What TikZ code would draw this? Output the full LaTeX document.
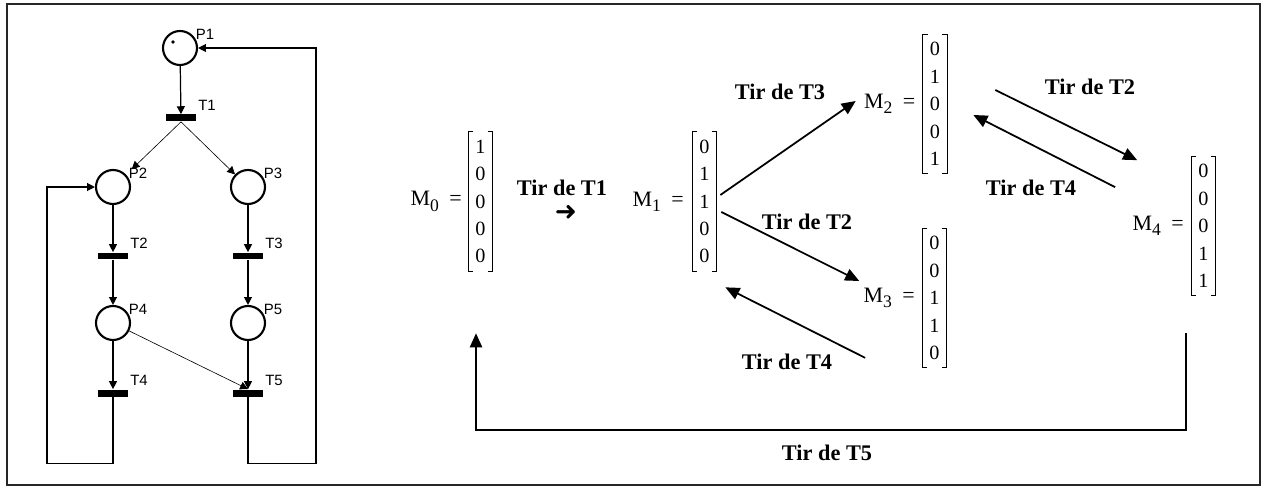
\documentclass[tikz,border=0pt]{standalone}
\usepackage{fontspec}
\setmainfont{Liberation Serif}
\newfontfamily\netfont{Liberation Sans}
\newfontfamily\symfont{DejaVu Sans}
\usetikzlibrary{arrows.meta,positioning}

% marking name with its lowered index, e.g. M_0 =
\newcommand{\mk}[1]{M\raisebox{-3pt}{\fontsize{10}{12}\selectfont #1}\hspace{6pt}=}

\begin{document}
\begin{tikzpicture}[x=0.02cm, y=-0.02cm,
    place/.style={circle, draw, line width=1.2pt, minimum size=0.68cm, inner sep=0},
    trans/.style={rectangle, fill, minimum width=0.62cm, minimum height=0.14cm, inner sep=0},
    lbl/.style={font=\netfont\fontsize{8.5}{9}\selectfont, inner sep=0},
    flow/.style={-{Triangle[length=4.5pt,width=4.5pt]}, line width=0.7pt},
    thinflow/.style={flow, line width=0.35pt},
    vect/.style={minimum width=0.48cm, minimum height=2.78cm, inner sep=0, align=center, font=\fontsize{11.5}{15.6}\selectfont},
    mlab/.style={inner sep=0, font=\fontsize{12.5}{14}\selectfont},
    fire/.style={-{Triangle[length=8pt,width=7pt]}, line width=1pt},
    firelab/.style={font=\bfseries\fontsize{12.7}{14}\selectfont},
    bracket/.style={line width=0.7pt}
  ]
    \useasboundingbox (0,0) rectangle (1261,486);
    \draw[line width=1.1pt, black!85] (7,4) rectangle (1260,485);

    % Petri net
    \node[place] (p1) at (180,48) {};
    \node[trans] (t1) at (181,118) {};
    \node[place] (p2) at (113,187) {};
    \node[place] (p3) at (248,187) {};
    \node[trans] (t2) at (113,256) {};
    \node[trans] (t3) at (248,256) {};
    \node[place] (p4) at (113,323) {};
    \node[place] (p5) at (248,323) {};
    \node[trans] (t4) at (113,393) {};
    \node[trans] (t5) at (248,393) {};
    \fill ([shift={(-7,-6)}]p1) circle[radius=1.1pt];

    \foreach \n in {1,...,5} {
      \node[lbl] (lp\n) at ([shift={(25,-14)}]p\n) {P\n};
      \node[lbl] (lt\n) at ([shift={(26,-13)}]t\n) {T\n};
    }

    \draw[flow] (p1) -- (t1);
    \draw[thinflow] (t1.south) -- ([shift={(6,-5)}]p2.north east);
    \draw[thinflow] (t1.south) -- (p3);
    \draw[flow] (p2) -- (t2);
    \draw[flow] (t2) -- (p4);
    \draw[flow] (p3) -- (t3);
    \draw[flow] (t3) -- (p5);
    \draw[flow] (p4) -- (t4);
    \draw[flow] (p5) -- (t5);
    \draw[thinflow] (p4) -- (t5.north);
    \draw[flow] (t4.south) -- ++(0,67) -- ++(-66,0) |- (p2.west);
    \draw[flow] (t5.south) -- ++(0,67) -- ++(68,0) |- (p1.east);

    % markings
    \node[vect] (m0) at (480.5,201.5) {1\\0\\0\\0\\0};
    \node[vect] (m1) at (704.5,201.5) {0\\1\\1\\0\\0};
    \node[vect] (m2) at (935,104) {0\\1\\0\\0\\1};
    \node[vect] (m3) at (934.5,298) {0\\0\\1\\1\\0};
    \node[vect] (m4) at (1203.5,226) {0\\0\\0\\1\\1};
    \foreach \m in {m0,m1,m2,m3,m4} {
      \draw[bracket] ([xshift=3pt]\m.north west) -- (\m.north west) -- (\m.south west) -- ([xshift=3pt]\m.south west);
      \draw[bracket] ([xshift=-3pt]\m.north east) -- (\m.north east) -- (\m.south east) -- ([xshift=-3pt]\m.south east);
    }
    \node[mlab, left=0.12cm of m0] (l0) {\mk{0}};
    \node[mlab, left=0.16cm of m1] (l1) {\mk{1}};
    \node[mlab, left=0.14cm of m2] (l2) {\mk{2}};
    \node[mlab, left=0.14cm of m3] (l3) {\mk{3}};
    \node[mlab, left=0.14cm of m4] (l4) {\mk{4}};

    % firings
    \node[firelab] (fire1) at (562,188) {Tir de T1};
    \node[font=\symfont\bfseries\fontsize{15}{16}\selectfont, inner sep=0] (go) at (566,213) {➜};
    \node[firelab] (fire3) at (780,92) {Tir de T3};
    \node[firelab] (fire2) at (807,222) {Tir de T2};
    \node[firelab] (fire4) at (787,362) {Tir de T4};
    \node[firelab] (fire2b) at (1090,87) {Tir de T2};
    \node[firelab] (fire4b) at (1031,188) {Tir de T4};
    \node[firelab] (fire5) at (827,453) {Tir de T5};

    \draw[fire] ([shift={(3.5,-6.5)}]m1.east) -- ([shift={(-8,-3)}]l2.west);
    \draw[fire] ([shift={(4.5,10.5)}]m1.east) -- ([shift={(-4,-17)}]l3.west);
    \draw[fire] ([shift={(-57,-10)}]m3.south west) -- ([shift={(8.5,16)}]m1.south east);
    \draw[fire] ([shift={(48,-14)}]m2.east) -- ([shift={(-54,4)}]m4.north west);
    \draw[fire] ([shift={(-76,31)}]m4.north west) -- ([shift={(26,11)}]m2.east);
    \draw[fire] ([shift={(-17.5,37)}]m4.south) -- ++(0,97) -| ([shift={(-4.5,62)}]m0.south);
  \end{tikzpicture}
\end{document}
